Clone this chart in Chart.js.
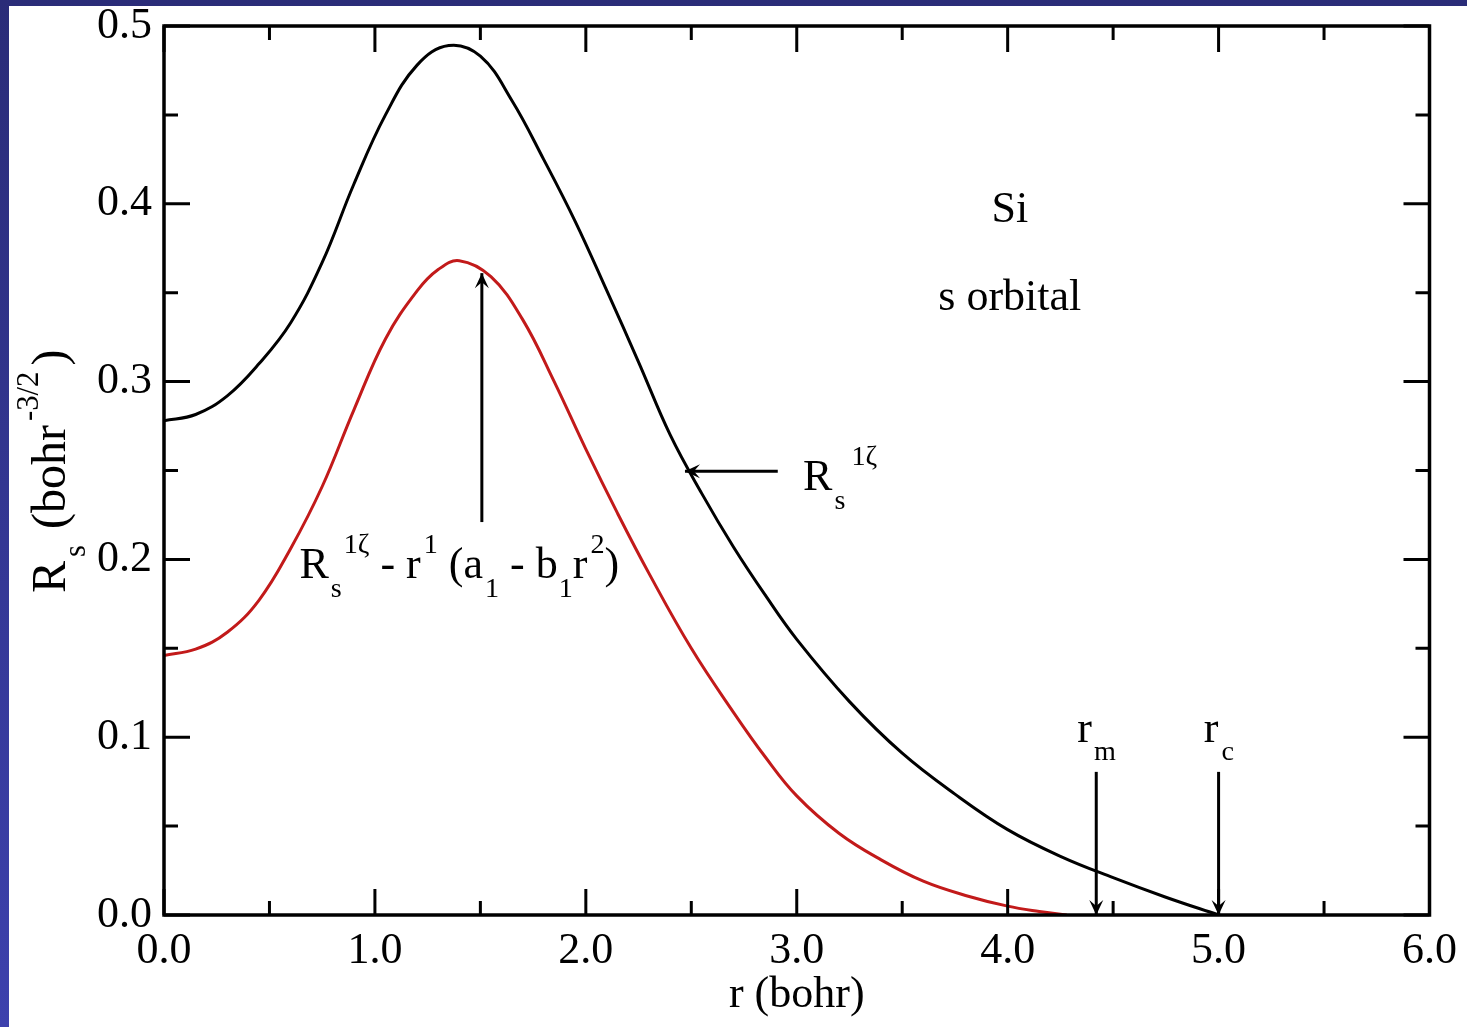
<!DOCTYPE html>
<html>
<head>
<meta charset="utf-8">
<title>Si s orbital</title>
<script src="https://cdn.jsdelivr.net/npm/chart.js@4.4.0/dist/chart.umd.min.js"></script>
<style>
  html, body { margin: 0; padding: 0; background: #2d2f7e; overflow: hidden; }
  #wrap { width: 1467px; height: 1027px; }
</style>
</head>
<body>
<div id="wrap"><canvas id="orbital" width="1467" height="1027"></canvas></div>
<script>
// R_s^{1zeta}: all-electron radial function (bohr, bohr^-3/2)
const rFull  = [0.0, 0.15, 0.3, 0.45, 0.6, 0.75, 0.9, 1.05, 1.2, 1.35, 1.5, 1.65, 1.8, 1.95, 2.1,
                2.25, 2.4, 2.55, 2.7, 2.85, 3.0, 3.25, 3.5, 3.75, 4.0, 4.25, 4.5, 4.75, 5.0];
const rsFull = [0.278, 0.2815, 0.292, 0.310, 0.333, 0.367, 0.411, 0.450, 0.478, 0.489, 0.483, 0.458, 0.425, 0.390, 0.351,
                0.311, 0.270, 0.237, 0.207, 0.180, 0.155, 0.120, 0.091, 0.068, 0.048, 0.033, 0.021, 0.010, 0.0];

// R_s^{1zeta} - r (a1 - b1 r^2)
const rCut  = [0.0, 0.15, 0.3, 0.45, 0.6, 0.75, 0.9, 1.05, 1.2, 1.3, 1.4, 1.55, 1.7, 1.85, 2.0,
               2.15, 2.3, 2.5, 2.7, 2.85, 3.0, 3.2, 3.4, 3.6, 3.8, 4.0, 4.15, 4.28];
const rsCut = [0.146, 0.1495, 0.159, 0.177, 0.206, 0.241, 0.284, 0.324, 0.351, 0.363, 0.368, 0.359, 0.335, 0.300, 0.262,
               0.226, 0.192, 0.150, 0.114, 0.089, 0.067, 0.046, 0.031, 0.019, 0.011, 0.005, 0.002, 0.0];

// matching radius and cutoff radius
const rM = 4.42;
const rC = 5.0;

const FONT = '"Liberation Serif", "Times New Roman", serif';
const SIZE = 44;

function toPoints(xs, ys) {
  return xs.map((x, i) => ({ x: x, y: ys[i] }));
}

// text run with sub/superscripts, left aligned at (x, y) baseline
function richText(ctx, x, y, parts, size) {
  let cx = x;
  ctx.textAlign = 'left';
  ctx.textBaseline = 'alphabetic';
  parts.forEach(p => {
    const s = p.k ? size * 0.64 : size;
    ctx.font = s + 'px ' + FONT;
    let dy = 0;
    if (p.k === 'sub') dy = size * 0.42;
    if (p.k === 'sup') dy = -size * 0.56;
    cx += p.dx || 0;
    ctx.fillText(p.t, cx, y + dy);
    cx += ctx.measureText(p.t).width;
  });
  return cx - x;
}

function arrow(ctx, x1, y1, x2, y2) {
  ctx.beginPath();
  ctx.moveTo(x1, y1);
  ctx.lineTo(x2, y2);
  ctx.stroke();
  const a = Math.atan2(y2 - y1, x2 - x1), L = 15, W = 7;
  ctx.beginPath();
  ctx.moveTo(x2, y2);
  ctx.lineTo(x2 - L * Math.cos(a) + W * Math.sin(a), y2 - L * Math.sin(a) - W * Math.cos(a));
  ctx.lineTo(x2 - L * 0.6 * Math.cos(a), y2 - L * 0.6 * Math.sin(a));
  ctx.lineTo(x2 - L * Math.cos(a) - W * Math.sin(a), y2 - L * Math.sin(a) + W * Math.cos(a));
  ctx.closePath();
  ctx.fill();
}

const framePlugin = {
  id: 'frame',
  beforeDraw(chart) {
    const ctx = chart.ctx;
    const g = ctx.createLinearGradient(0, 0, 0, chart.height);
    g.addColorStop(0, '#2a2c78');
    g.addColorStop(1, '#3d41ad');
    ctx.save();
    ctx.fillStyle = g;
    ctx.fillRect(0, 0, chart.width, chart.height);
    ctx.fillStyle = '#ffffff';
    ctx.fillRect(9, 6, chart.width - 9, chart.height - 6);
    ctx.restore();
  },
  afterDraw(chart) {
    const ctx = chart.ctx;
    const a = chart.chartArea;
    const xs = chart.scales.x, ys = chart.scales.y;
    ctx.save();
    ctx.strokeStyle = '#000';
    ctx.fillStyle = '#000';
    ctx.lineCap = 'butt';

    // inward ticks on all four sides
    ctx.lineWidth = 3;
    const major = 26, minor = 14;
    const xt = xs.ticks.map(t => t.value);
    const yt = ys.ticks.map(t => t.value);
    ctx.beginPath();
    xt.forEach((v, i) => {
      const px = xs.getPixelForValue(v);
      ctx.moveTo(px, a.bottom); ctx.lineTo(px, a.bottom - major);
      ctx.moveTo(px, a.top); ctx.lineTo(px, a.top + major);
      if (i < xt.length - 1) {
        const mx = xs.getPixelForValue((v + xt[i + 1]) / 2);
        ctx.moveTo(mx, a.bottom); ctx.lineTo(mx, a.bottom - minor);
        ctx.moveTo(mx, a.top); ctx.lineTo(mx, a.top + minor);
      }
    });
    yt.forEach((v, i) => {
      const py = ys.getPixelForValue(v);
      ctx.moveTo(a.left, py); ctx.lineTo(a.left + major, py);
      ctx.moveTo(a.right, py); ctx.lineTo(a.right - major, py);
      if (i < yt.length - 1) {
        const my = ys.getPixelForValue((v + yt[i + 1]) / 2);
        ctx.moveTo(a.left, my); ctx.lineTo(a.left + minor, my);
        ctx.moveTo(a.right, my); ctx.lineTo(a.right - minor, my);
      }
    });
    ctx.stroke();

    ctx.lineWidth = 3.5;
    ctx.strokeRect(a.left, a.top, a.right - a.left, a.bottom - a.top);

    // arrows
    const X = v => xs.getPixelForValue(v);
    const Y = v => ys.getPixelForValue(v);
    ctx.lineWidth = 3;
    arrow(ctx, X(1.507), Y(0.221), X(1.507), Y(0.361));
    arrow(ctx, X(2.91), Y(0.2496), X(2.47), Y(0.2496));
    arrow(ctx, X(rM), Y(0.0805), X(rM), Y(0.0));
    arrow(ctx, X(rC), Y(0.0805), X(rC), Y(0.0));

    // labels
    richText(ctx, X(0.642), Y(0.1895), [
      { t: 'R' }, { t: 's', k: 'sub', dx: 2 }, { t: '1ζ', k: 'sup', dx: 2 },
      { t: ' - r' }, { t: '1', k: 'sup', dx: 3 }, { t: ' (a' }, { t: '1', k: 'sub', dx: 2 },
      { t: ' - b' }, { t: '1', k: 'sub', dx: 1 }, { t: 'r' }, { t: '2', k: 'sup', dx: 3 }, { t: ')' }
    ], SIZE);
    richText(ctx, X(3.03), Y(0.239), [
      { t: 'R' }, { t: 's', k: 'sub', dx: 2 }, { t: '1ζ', k: 'sup', dx: 6 }
    ], SIZE);
    richText(ctx, X(4.33), Y(0.0973), [{ t: 'r' }, { t: 'm', k: 'sub', dx: 2 }], SIZE);
    richText(ctx, X(4.93), Y(0.0973), [{ t: 'r' }, { t: 'c', k: 'sub', dx: 3 }], SIZE);

    ctx.font = SIZE + 'px ' + FONT;
    ctx.textAlign = 'center';
    ctx.fillText('Si', X(4.01), Y(0.390));
    ctx.fillText('s orbital', X(4.01), Y(0.340));

    // axis titles
    ctx.fillText('r (bohr)', (a.left + a.right) / 2, a.bottom + 92);
    ctx.translate(a.left - 99, a.bottom - 322);
    ctx.rotate(-Math.PI / 2);
    richText(ctx, 0, 0, [
      { t: 'R' }, { t: 's', k: 'sub', dx: 4 }, { t: ' (bohr', dx: 4 }, { t: '-3/2', k: 'sup', dx: 4 }, { t: ')', dx: 6 }
    ], 48);
    ctx.restore();
  }
};

const ctx = document.getElementById('orbital').getContext('2d');
new Chart(ctx, {
  type: 'scatter',
  data: {
    datasets: [
      {
        label: 'R_s^1ζ',
        data: toPoints(rFull, rsFull),
        showLine: true,
        borderColor: '#000000',
        borderWidth: 3,
        pointRadius: 0,
        tension: 0.4
      },
      {
        label: 'R_s^1ζ - r(a1 - b1 r^2)',
        data: toPoints(rCut, rsCut),
        showLine: true,
        borderColor: '#c21a1a',
        borderWidth: 3,
        pointRadius: 0,
        tension: 0.4
      }
    ]
  },
  options: {
    responsive: false,
    animation: false,
    layout: { autoPadding: false, padding: { left: 0, top: 26, right: 33, bottom: 0 } },
    plugins: { legend: { display: false }, tooltip: { enabled: false } },
    scales: {
      x: {
        type: 'linear', min: 0, max: 6,
        grid: { display: false, drawTicks: false }, border: { display: false },
        ticks: {
          stepSize: 1, color: '#000', padding: 10,
          font: { family: FONT, size: SIZE },
          callback: v => v.toFixed(1)
        },
        afterFit: s => { s.height = 112; }
      },
      y: {
        type: 'linear', min: 0, max: 0.5,
        grid: { display: false, drawTicks: false }, border: { display: false },
        ticks: {
          stepSize: 0.1, color: '#000', padding: 12,
          font: { family: FONT, size: SIZE, lineHeight: 0.6 },
          callback: v => v.toFixed(1)
        },
        afterFit: s => { s.width = 164; s.paddingTop = 0; s.paddingBottom = 0; }
      }
    }
  },
  plugins: [framePlugin]
});
</script>
</body>
</html>
